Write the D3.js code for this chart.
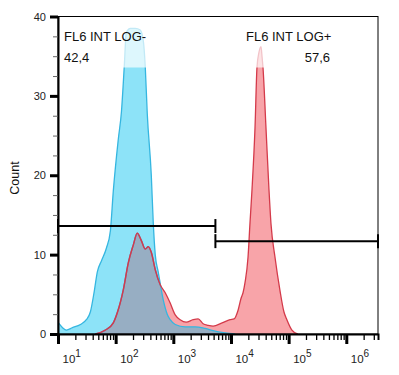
<!DOCTYPE html>
<html>
<head>
<meta charset="utf-8">
<script src="https://cdn.jsdelivr.net/npm/d3@7"></script>
<style>
  body { margin: 0; background: #fff; }
  svg { display: block; font-family: "Liberation Sans", Arial, sans-serif; }
</style>
</head>
<body>
<script>
// FL6 intensity (x) and counts (y)
var negIntensity = [10.2, 12, 14, 17.8, 24.5, 31, 36.5, 42.8, 48, 56.6, 69, 81, 91, 111, 126, 141, 153, 180, 219, 267, 301, 326, 353, 415, 449, 486, 548, 669, 784, 883, 1079, 1607, 2393, 3566, 5309, 7907, 11776];
var negCount = [1.4, 0.8, 0.5, 0.8, 1.2, 1.8, 2.8, 5.5, 7.8, 9.2, 10.8, 13, 18, 24.5, 28, 33.7, 38, 38.5, 38.5, 38.3, 37, 33.7, 27.8, 20, 14, 10, 7.8, 4.3, 2.5, 1.8, 1.2, 0.9, 0.9, 0.7, 0.35, 0.15, 0];

var posIntensity = [44.6, 66.4, 91, 107, 136, 166, 202, 237, 278, 326, 368, 415, 486, 593, 724, 883, 1079, 1315, 1671, 2208, 2697, 3289, 4018, 4897, 7015, 9640, 11320, 13280, 14960, 16190, 17540, 19770, 21380, 23170, 26120, 28270, 30620, 33180, 34510, 35890, 40450, 45600, 49400, 57940, 70680, 82800, 93350, 114000, 144900];
var posCount = [0, 0.5, 1.4, 2.7, 5.6, 9, 11.2, 12.7, 11.8, 10.7, 11, 10.3, 8.1, 6.2, 5.2, 3.9, 2.4, 1.8, 1.5, 1.8, 1.9, 1.3, 1.1, 1.0, 1.4, 1.8, 1.9, 3.0, 4.5, 5.2, 6.5, 9.7, 14, 18.2, 26, 33.6, 35.5, 36.2, 35, 33.6, 26, 18.2, 13.9, 9.7, 5.5, 2.8, 1.8, 0.5, 0];

var gateNames = ["FL6 INT LOG-", "FL6 INT LOG+"];
var gatePercents = ["42,4", "57,6"];
var gateRanges = [[10, 5370], [5370, Math.pow(10, 6.55)]];
var gateLevels = [13.6, 11.7];

var yTicks = [0, 10, 20, 30, 40];
var xDecades = [1, 2, 3, 4, 5, 6];

var W = 399, H = 375;
var margin = {top: 16.5, right: 21, bottom: 41, left: 58};
var width = W - margin.left - margin.right,
    height = H - margin.top - margin.bottom;

var x = d3.scaleLog().domain([10, Math.pow(10, 6.55)]).range([0, width]);
var y = d3.scaleLinear().domain([0, 40]).range([height, 0]);

var svg = d3.select("body").append("svg")
    .attr("width", W).attr("height", H)
    .append("g")
    .attr("transform", "translate(" + margin.left + "," + margin.top + ")");

var area = d3.area()
    .x(function(d) { return x(d[0]); })
    .y0(height)
    .y1(function(d) { return y(d[1]); })
    .curve(d3.curveMonotoneX);
var line = area.lineY1();

var negData = d3.zip(negIntensity, negCount);
var posData = d3.zip(posIntensity, posCount);

var defs = svg.append("defs");
defs.append("clipPath").attr("id", "plotclip")
    .append("rect").attr("width", width).attr("height", height);
defs.append("clipPath").attr("id", "negclip")
    .append("path").datum(negData).attr("d", area);

var plot = svg.append("g").attr("clip-path", "url(#plotclip)");

// filled areas
plot.append("path").datum(negData)
    .attr("d", area).attr("fill", "#8de3f8");
plot.append("path").datum(posData)
    .attr("d", area).attr("fill", "#f8a4a9");
// where both populations overlap
var both = plot.append("g").attr("clip-path", "url(#negclip)");
both.append("path").datum(posData)
    .attr("d", area).attr("fill", "#97aec3");

// outlines
plot.append("path").datum(negData)
    .attr("d", line).attr("fill", "none")
    .attr("stroke", "#35b6e0").attr("stroke-width", 1.3);
plot.append("path").datum(posData)
    .attr("d", line).attr("fill", "none")
    .attr("stroke", "#d43a4a").attr("stroke-width", 1.3);
both.append("path").datum(posData)
    .attr("d", line).attr("fill", "none")
    .attr("stroke", "#7f6c9a").attr("stroke-width", 1.5);

// label boxes (semi transparent white)
svg.append("rect").attr("x", 3).attr("y", 10).attr("width", 95).attr("height", 41)
    .attr("fill", "#fff").attr("opacity", 0.7);
svg.append("rect").attr("x", 185).attr("y", 10).attr("width", 95).attr("height", 41)
    .attr("fill", "#fff").attr("opacity", 0.7);

// gates
gateRanges.forEach(function(r, i) {
    var g = svg.append("g").attr("stroke", "#000").attr("stroke-width", 2);
    var yy = y(gateLevels[i]);
    g.append("line").attr("x1", x(r[0])).attr("x2", x(r[1])).attr("y1", yy).attr("y2", yy);
    g.append("line").attr("x1", x(r[0])).attr("x2", x(r[0])).attr("y1", yy - 7).attr("y2", yy + 7);
    g.append("line").attr("x1", x(r[1])).attr("x2", x(r[1])).attr("y1", yy - 7).attr("y2", yy + 7);
});

// gate labels
svg.append("text").attr("x", 6).attr("y", 41 - margin.top)
    .style("font-size", "13px").attr("fill", "#111").text(gateNames[0]);
svg.append("text").attr("x", 6).attr("y", 62 - margin.top)
    .style("font-size", "13px").attr("fill", "#111").text(gatePercents[0]);
svg.append("text").attr("x", 188).attr("y", 41 - margin.top)
    .style("font-size", "13px").attr("fill", "#111").text(gateNames[1]);
svg.append("text").attr("x", 272).attr("y", 62 - margin.top)
    .attr("text-anchor", "end")
    .style("font-size", "13px").attr("fill", "#111").text(gatePercents[1]);

// frame
svg.append("rect").attr("width", width).attr("height", height)
    .attr("fill", "none").attr("stroke", "#000").attr("stroke-width", 1);

// y axis
var yAxis = svg.append("g")
    .call(d3.axisLeft(y).tickValues(yTicks).tickSize(8).tickPadding(4));
yAxis.select(".domain").attr("stroke-width", 2);
yAxis.selectAll(".tick line").attr("stroke-width", 3);
yAxis.selectAll(".tick text").style("font-size", "11px").attr("fill", "#222")
    .style("font-family", "'Liberation Sans', Arial, sans-serif");
svg.append("g")
    .call(d3.axisLeft(y).tickValues(d3.range(2.5, 40, 2.5).filter(function(v) { return v % 10 !== 0; })).tickSize(5).tickFormat(""))
    .call(function(g) { g.select(".domain").remove(); })
    .selectAll(".tick line").attr("stroke", "#666");

// x axis
var minor = [];
xDecades.forEach(function(e) {
    for (var k = 2; k <= 9; k++) minor.push(k * Math.pow(10, e));
});
minor = minor.filter(function(v) { return v <= x.domain()[1]; });
var xMinor = svg.append("g").attr("transform", "translate(0," + height + ")")
    .call(d3.axisBottom(x).tickValues(minor).tickSize(6).tickFormat(""));
xMinor.select(".domain").attr("stroke-width", 2);
xMinor.selectAll(".tick line").attr("stroke-width", 1.3);

var xMajor = svg.append("g").attr("transform", "translate(0," + height + ")")
    .call(d3.axisBottom(x).tickValues(xDecades.map(function(e) { return Math.pow(10, e); }))
        .tickSize(10).tickFormat(""));
xMajor.select(".domain").remove();
xMajor.selectAll(".tick line").attr("stroke-width", 3);

var xl = xMajor.selectAll(".tick").append("text")
    .attr("fill", "#222").attr("y", 29).attr("x", 0)
    .style("font-size", "11.5px");
xl.append("tspan").text("10");
xl.append("tspan").attr("dy", -6).style("font-size", "10px")
    .text(function(d) { return Math.round(Math.log10(d)); });
xl.attr("text-anchor", "start").attr("x", 4);

// y label
svg.append("text")
    .attr("transform", "rotate(-90)")
    .attr("x", -(178 - margin.top))
    .attr("y", 19 - margin.left)
    .attr("text-anchor", "middle")
    .style("font-size", "12.5px").attr("fill", "#111")
    .text("Count");
</script>
</body>
</html>
